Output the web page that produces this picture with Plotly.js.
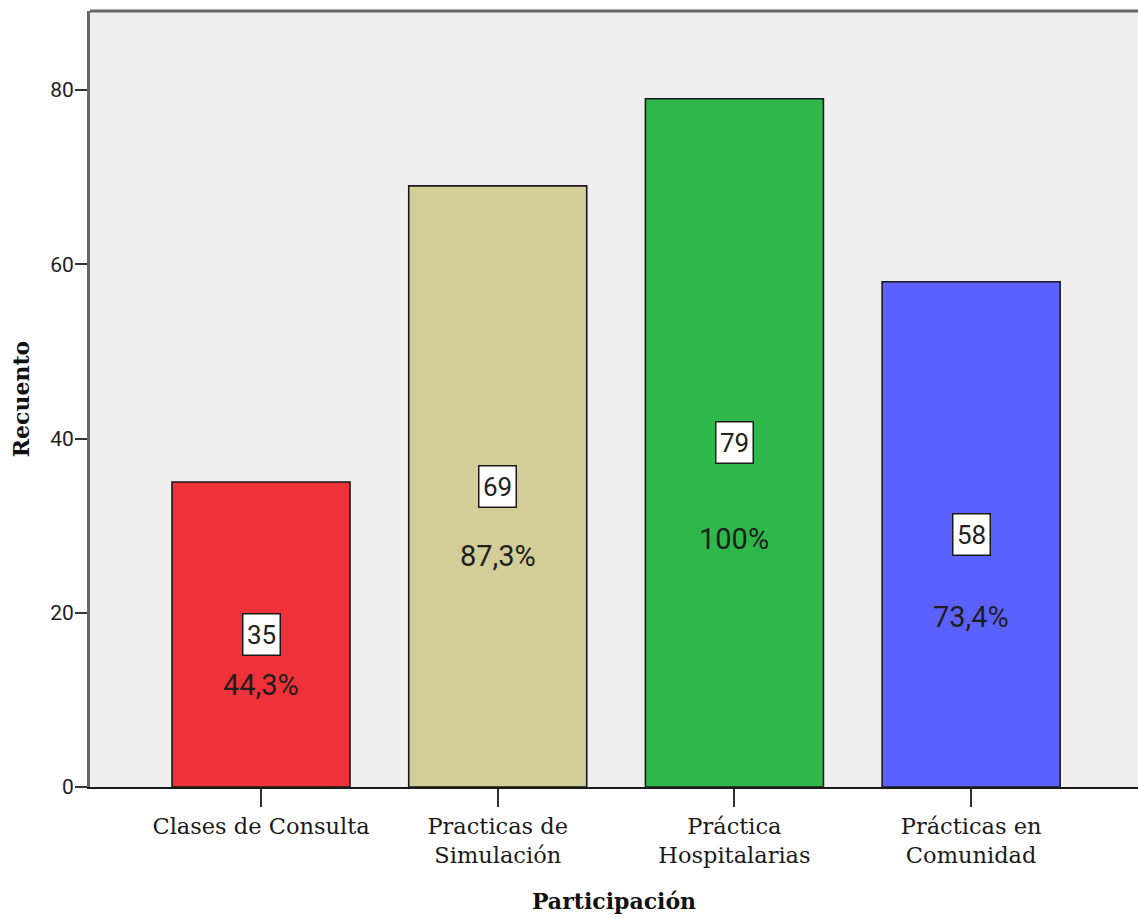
<!DOCTYPE html>
<html>
<head>
<meta charset="utf-8">
<script src="https://cdn.plot.ly/plotly-3.0.1.min.js"></script>
<style>
  html, body { margin: 0; padding: 0; background: #ffffff; overflow: hidden; }
  #chart { width: 1138px; height: 918px; }
</style>
</head>
<body>
<div id="chart"></div>
<script>
// Participation counts per activity
const categories = ['Clases de Consulta', 'Practicas de<br>Simulación', 'Práctica<br>Hospitalarias', 'Prácticas en<br>Comunidad'];
const counts = [35, 69, 79, 58];
const percentLabels = ['44,3%', '87,3%', '100%', '73,4%'];
const barColors = ['#EF3139', '#D3CE97', '#2EB84A', '#5B61FE'];

// vertical distance (px) of each percentage label below its count box
const pctOffsetPx = [50, 70, 96, 83];

const xIdx = categories.map((_, i) => i);

const trace = {
  type: 'bar',
  x: xIdx,
  y: counts,
  width: 0.752,
  marker: { color: barColors, line: { color: '#1a1a1a', width: 1.6 } },
  hoverinfo: 'skip'
};

const annotations = [];
counts.forEach((v, i) => {
  annotations.push({
    x: i, y: v / 2, xref: 'x', yref: 'y',
    text: String(v), showarrow: false,
    width: 32, height: 36,
    bgcolor: '#ffffff', bordercolor: '#1a1a1a', borderwidth: 1.5, borderpad: 2,
    font: { family: 'Roboto, sans-serif', size: 26, color: '#222222' }
  });
  annotations.push({
    x: i, y: v / 2, xref: 'x', yref: 'y', yshift: -pctOffsetPx[i],
    text: percentLabels[i], showarrow: false,
    font: { family: 'Roboto, sans-serif', size: 29, color: '#1e1e1e' }
  });
});

const layout = {
  width: 1138, height: 918,
  margin: { l: 90, r: 0, t: 11, b: 131 },
  paper_bgcolor: '#ffffff',
  plot_bgcolor: '#EFEFEF',
  showlegend: false,
  bargap: 0,
  xaxis: {
    range: [-0.7225, 3.705],
    tickmode: 'array', tickvals: xIdx, ticktext: categories,
    ticks: 'outside', ticklen: 18, tickwidth: 2, tickcolor: '#333333',
    showline: true, linecolor: '#1a1a1a', linewidth: 2,
    showgrid: false, zeroline: false, fixedrange: true,
    tickfont: { family: 'DejaVu Serif, serif', size: 22.5, color: '#1a1a1a' },
    title: { text: 'Participación', standoff: 26,
      font: { family: 'DejaVu Serif, serif', size: 22, color: '#111111', weight: 'bold' } }
  },
  yaxis: {
    range: [0, 89.07],
    tickmode: 'array', tickvals: [0, 20, 40, 60, 80],
    ticks: 'outside', ticklen: 12, tickwidth: 2, tickcolor: '#333333',
    ticklabelstandoff: -3,
    showline: true, linecolor: '#666666', linewidth: 3,
    showgrid: false, zeroline: false, fixedrange: true,
    tickfont: { family: 'Roboto, sans-serif', size: 21, color: '#1e1e1e' },
    title: { text: 'Recuento', standoff: 15,
      font: { family: 'DejaVu Serif, serif', size: 22, color: '#111111', weight: 'bold' } }
  },
  shapes: [{
    type: 'line', xref: 'paper', yref: 'paper', x0: 0, x1: 1, y0: 1, y1: 1,
    line: { color: '#666666', width: 3 }
  }],
  annotations: annotations
};

Plotly.newPlot('chart', [trace], layout, { displayModeBar: false, staticPlot: true });
</script>
</body>
</html>
